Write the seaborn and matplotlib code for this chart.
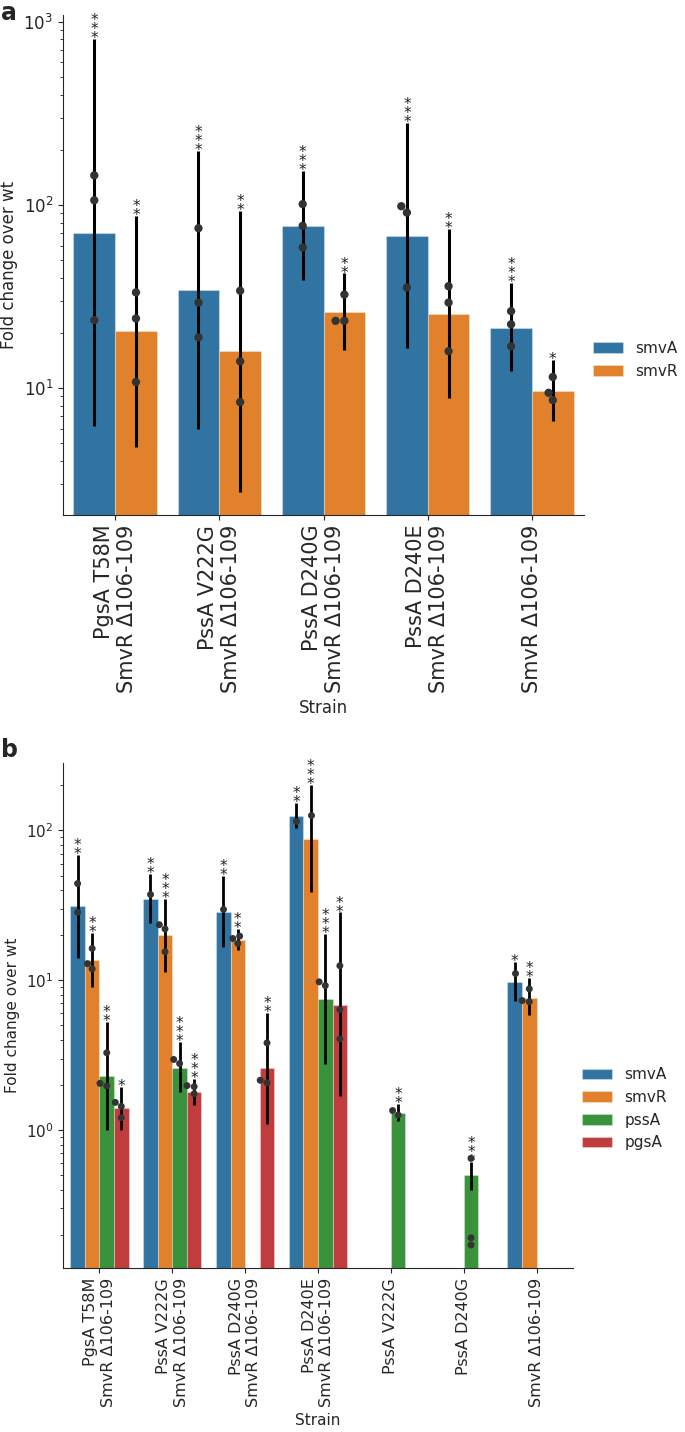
import pandas as pd
import matplotlib
matplotlib.use("Agg")
import matplotlib.pyplot as plt
import seaborn as sns

sns.set_style("ticks")

# ---- panel a ----
strains_a = ["PgsA T58M\nSmvR Δ106-109", "PssA V222G\nSmvR Δ106-109",
             "PssA D240G\nSmvR Δ106-109", "PssA D240E\nSmvR Δ106-109",
             "SmvR Δ106-109"]
genes_a = ["smvA", "smvR"]

a_smvA_mean = [70.7, 34.5, 76.9, 67.8, 21.4]
a_smvA_lo = [6.2, 5.95, 38.8, 16.5, 12.4]
a_smvA_hi = [809, 198, 152.7, 281.5, 37.7]
a_smvA_stars = ["***", "***", "***", "***", "***"]
a_smvA_points = [[145, 106, 23.5], [74.6, 29.3, 18.9], [101, 76.9, 58.6],
                 [98.4, 90.8, 35.4], [26.3, 22.3, 16.9]]

a_smvR_mean = [20.5, 15.9, 25.9, 25.5, 9.67]
a_smvR_lo = [4.79, 2.70, 16.1, 8.79, 6.63]
a_smvR_hi = [86.8, 92.7, 42.3, 74.3, 14.2]
a_smvR_stars = ["**", "**", "**", "**", "*"]
a_smvR_points = [[33.3, 24.0, 10.8], [34.0, 14.0, 8.39], [32.4, 23.3, 23.3],
                 [36.0, 29.3, 15.9], [11.5, 9.43, 8.6]]

# ---- panel b ----
strains_b = ["PgsA T58M\nSmvR Δ106-109", "PssA V222G\nSmvR Δ106-109",
             "PssA D240G\nSmvR Δ106-109", "PssA D240E\nSmvR Δ106-109",
             "PssA V222G", "PssA D240G", "SmvR Δ106-109"]
genes_b = ["smvA", "smvR", "pssA", "pgsA"]

b_smvA_mean = [31.2, 35.1, 28.6, 125.6, None, None, 9.70]
b_smvA_lo = [14.1, 24.2, 16.7, 104, None, None, 7.24]
b_smvA_hi = [69.0, 51.5, 49.4, 152.5, None, None, 13.3]
b_smvA_stars = ["**", "**", "**", "**", None, None, "*"]
b_smvA_points = [[44.2, 28.4], [37.9], [29.9], [116], [], [], [11.1]]

b_smvR_mean = [13.6, 19.96, 18.7, 88.2, None, None, 7.67]
b_smvR_lo = [8.98, 11.4, 15.9, 38.9, None, None, 5.84]
b_smvR_hi = [20.7, 35.1, 22.0, 201, None, None, 10.4]
b_smvR_stars = ["**", "***", "**", "***", None, None, "**"]
b_smvR_points = [[12.9, 16.3, 11.9], [23.5, 22.0, 15.5], [19.0, 17.6, 19.7],
                 [127], [], [], [8.76, 7.32, 7.18]]

b_pssA_mean = [2.31, 2.60, None, 7.51, 1.31, 0.503, None]
b_pssA_lo = [1.0, 1.79, None, 2.78, 1.15, 0.397, None]
b_pssA_hi = [5.28, 3.86, None, 20.4, 1.5, 0.611, None]
b_pssA_stars = ["**", "***", None, "***", "**", "***", None]
b_pssA_points = [[2.05, 1.97, 3.28], [2.96, 2.78], [], [9.76, 9.22],
                 [1.35, 1.26], [0.647, 0.191, 0.171], []]

b_pgsA_mean = [1.41, 1.80, 2.60, 6.88, None, None, None]
b_pgsA_lo = [1.0, 1.48, 1.09, 1.68, None, None, None]
b_pgsA_hi = [1.95, 2.2, 6.06, 28.4, None, None, None]
b_pgsA_stars = ["*", "***", "**", "**", None, None, None]
b_pgsA_points = [[1.44, 1.21, 1.53], [1.95, 1.75, 1.98], [2.15, 2.07, 3.82],
                 [12.5, 6.37, 4.06], [], [], []]


def make_tables(strains, series):
    bars, pts = [], []
    for gene, (mean, lo, hi, stars, points) in series.items():
        for s, m, l, h, st, p in zip(strains, mean, lo, hi, stars, points):
            if m is not None:
                bars.append(dict(strain=s, gene=gene, fold=m, lo=l, hi=h, stars=st))
            for v in p:
                pts.append(dict(strain=s, gene=gene, fold=v))
    return pd.DataFrame(bars), pd.DataFrame(pts)


def draw_panel(ax, bars, pts, strains, genes, fs, xfs, dot, lw, ylim, legend_y):
    ax.set_yscale("log")
    sns.barplot(data=bars, x="strain", y="fold", hue="gene", order=strains,
                hue_order=genes, errorbar=None, linewidth=0.8,
                edgecolor=(1, 1, 1, 0.3), ax=ax)
    for gene, cont in zip(genes, ax.containers):
        sub = bars[bars.gene == gene]
        for rect, (_, r) in zip(cont, sub.iterrows()):
            xc = rect.get_x() + rect.get_width() / 2
            ax.vlines(xc, r.lo, r.hi, color="black", lw=lw, zorder=3)
            ax.annotate("\n".join(r.stars), (xc, r.hi), xytext=(0, -3),
                        textcoords="offset points", ha="center", va="baseline",
                        fontsize=11, linespacing=0.5, color="#222222")
    sns.swarmplot(data=pts, x="strain", y="fold", hue="gene", order=strains,
                  hue_order=genes, dodge=True, palette=["#333333"] * len(genes),
                  size=dot, legend=False, ax=ax, zorder=4)
    ax.set_ylim(*ylim)
    ax.set_xlabel("Strain", fontsize=fs)
    ax.set_ylabel("Fold change over wt", fontsize=fs)
    ax.tick_params(axis="y", labelsize=fs)
    ax.tick_params(axis="x", labelsize=xfs, rotation=90)
    for lab in ax.get_xticklabels():
        lab.set_multialignment("right")
    sns.move_legend(ax, "center left", bbox_to_anchor=(0.99, legend_y),
                    frameon=False, title=None, fontsize=11)
    sns.despine(ax=ax)


fig = plt.figure(figsize=(6.85, 14.32), dpi=100)
ax_a = fig.add_axes([0.092, 0.6404, 0.7606, 0.3492])
ax_b = fig.add_axes([0.092, 0.1145, 0.7445, 0.3527])

bars_a, pts_a = make_tables(strains_a, {
    "smvA": (a_smvA_mean, a_smvA_lo, a_smvA_hi, a_smvA_stars, a_smvA_points),
    "smvR": (a_smvR_mean, a_smvR_lo, a_smvR_hi, a_smvR_stars, a_smvR_points),
})
bars_b, pts_b = make_tables(strains_b, {
    "smvA": (b_smvA_mean, b_smvA_lo, b_smvA_hi, b_smvA_stars, b_smvA_points),
    "smvR": (b_smvR_mean, b_smvR_lo, b_smvR_hi, b_smvR_stars, b_smvR_points),
    "pssA": (b_pssA_mean, b_pssA_lo, b_pssA_hi, b_pssA_stars, b_pssA_points),
    "pgsA": (b_pgsA_mean, b_pgsA_lo, b_pgsA_hi, b_pgsA_stars, b_pgsA_points),
})

draw_panel(ax_a, bars_a, pts_a, strains_a, genes_a, 12, 15, 6, 2.2, (2.03, 1090), 0.31)
draw_panel(ax_b, bars_b, pts_b, strains_b, genes_b, 11, 11.5, 5, 2.0, (0.12, 282), 0.315)

fig.text(0.002, 0.999, "a", fontsize=17, fontweight="bold", va="top")
fig.text(0.002, 0.4846, "b", fontsize=17, fontweight="bold", va="top")

fig.savefig("out.png", dpi=100)
